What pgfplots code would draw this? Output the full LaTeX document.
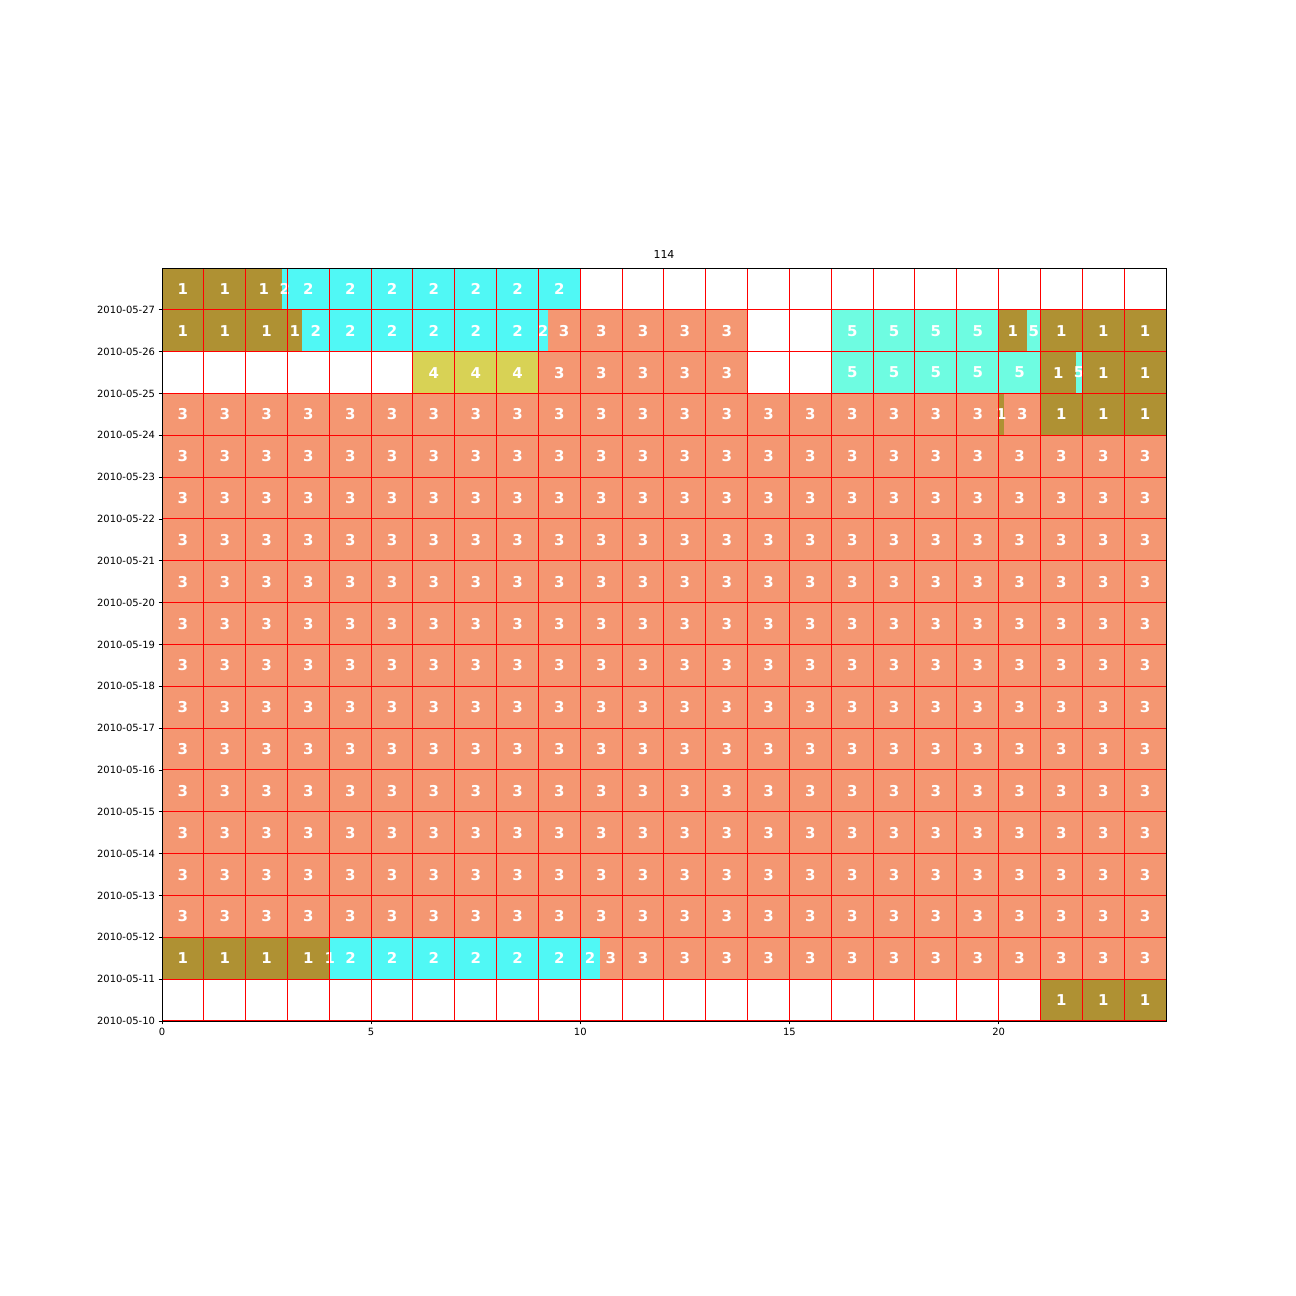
\documentclass[border=0pt]{standalone}
\usepackage{fontspec}
\setmainfont{DejaVu Sans}
\usepackage{pgfplots}
\pgfplotsset{compat=1.18}

\definecolor{c1}{RGB}{175,145,51}
\definecolor{c2}{RGB}{80,248,245}
\definecolor{c3}{RGB}{244,151,114}
\definecolor{c4}{RGB}{216,210,85}
\definecolor{c5}{RGB}{110,252,225}

\pgfplotsset{
  cell/.style={draw=none, fill=#1, forget plot},
  lbl/.style={only marks, mark=none, forget plot, on layer=axis foreground,
    nodes near coords={#1},
    every node near coord/.append style={anchor=center, text=white,
      font=\bfseries\fontsize{15}{15}\selectfont}},
}

\begin{document}
\begin{tikzpicture}
\path (0,0) rectangle (1296bp,1296bp);
\begin{axis}[
  at={(162bp,275bp)}, anchor=south west,
  width=1004bp, height=753bp, scale only axis,
  xmin=0, xmax=24, ymin=0, ymax=18,
  xtick={0,5,10,15,20}, minor xtick={1,...,23},
  ytick={0,...,17},
  yticklabels={2010-05-10,2010-05-11,2010-05-12,2010-05-13,2010-05-14,2010-05-15,
    2010-05-16,2010-05-17,2010-05-18,2010-05-19,2010-05-20,2010-05-21,2010-05-22,
    2010-05-23,2010-05-24,2010-05-25,2010-05-26,2010-05-27},
  tick align=outside, tick pos=left,
  major tick length=3.5bp, minor tick length=0pt,
  xmajorgrids, xminorgrids, ymajorgrids,
  grid style={draw=red, line width=1bp},
  minor grid style={draw=red, line width=1bp},
  set layers, axis on top,
  axis line style={black, line width=0.8bp},
  tick style={black, line width=0.8bp},
  tick label style={font=\fontsize{10}{12}\selectfont},
  /pgf/number format/assume math mode=true,
  title=114, title style={font=\fontsize{11}{13}\selectfont},
]
% coloured segments (hour from, hour to, day row)
\addplot [cell=c3] coordinates {(10.46,1) (24,1) (24,2) (10.46,2)};
\addplot [cell=c3] coordinates {(0,2) (24,2) (24,14) (0,14)};
\addplot [cell=c3] coordinates {(0,14) (20,14) (20,15) (0,15)};
\addplot [cell=c3] coordinates {(20.13,14) (21,14) (21,15) (20.13,15)};
\addplot [cell=c3] coordinates {(9,15) (14,15) (14,16) (9,16)};
\addplot [cell=c3] coordinates {(9.22,16) (14,16) (14,17) (9.22,17)};

\addplot [cell=c1] coordinates {(21,0) (24,0) (24,1) (21,1)};
\addplot [cell=c1] coordinates {(0,1) (4.02,1) (4.02,2) (0,2)};
\addplot [cell=c1] coordinates {(20,14) (20.13,14) (20.13,15) (20,15)};
\addplot [cell=c1] coordinates {(21,14) (24,14) (24,15) (21,15)};
\addplot [cell=c1] coordinates {(21,15) (21.85,15) (21.85,16) (21,16)};
\addplot [cell=c1] coordinates {(22,15) (24,15) (24,16) (22,16)};
\addplot [cell=c1] coordinates {(0,16) (3.35,16) (3.35,17) (0,17)};
\addplot [cell=c1] coordinates {(20,16) (20.68,16) (20.68,17) (20,17)};
\addplot [cell=c1] coordinates {(21,16) (24,16) (24,17) (21,17)};
\addplot [cell=c1] coordinates {(0,17) (2.87,17) (2.87,18) (0,18)};

\addplot [cell=c2] coordinates {(4.02,1) (10.46,1) (10.46,2) (4.02,2)};
\addplot [cell=c2] coordinates {(3.35,16) (9.22,16) (9.22,17) (3.35,17)};
\addplot [cell=c2] coordinates {(2.87,17) (10,17) (10,18) (2.87,18)};

\addplot [cell=c4] coordinates {(6,15) (9,15) (9,16) (6,16)};

\addplot [cell=c5] coordinates {(16,15) (21,15) (21,16) (16,16)};
\addplot [cell=c5] coordinates {(21.85,15) (22,15) (22,16) (21.85,16)};
\addplot [cell=c5] coordinates {(16,16) (20,16) (20,17) (16,17)};
\addplot [cell=c5] coordinates {(20.68,16) (21,16) (21,17) (20.68,17)};

% labels
\addplot [lbl=1] coordinates {
(21.5,0.5) (22.5,0.5) (23.5,0.5)
(0.5,1.5) (1.5,1.5) (2.5,1.5) (3.5,1.5) (4.01,1.5)
(20.065,14.5) (21.5,14.5) (22.5,14.5) (23.5,14.5)
(21.425,15.5) (22.5,15.5) (23.5,15.5)
(0.5,16.5) (1.5,16.5) (2.5,16.5) (3.175,16.5) (20.34,16.5) (21.5,16.5) (22.5,16.5) (23.5,16.5)
(0.5,17.5) (1.5,17.5) (2.435,17.5)
};
\addplot [lbl=2] coordinates {
(4.51,1.5) (5.5,1.5) (6.5,1.5) (7.5,1.5) (8.5,1.5) (9.5,1.5) (10.23,1.5)
(3.675,16.5) (4.5,16.5) (5.5,16.5) (6.5,16.5) (7.5,16.5) (8.5,16.5) (9.11,16.5)
(2.935,17.5) (3.5,17.5) (4.5,17.5) (5.5,17.5) (6.5,17.5) (7.5,17.5) (8.5,17.5) (9.5,17.5)
};
\addplot [lbl=3] coordinates {
(10.73,1.5) (11.5,1.5) (12.5,1.5) (13.5,1.5) (14.5,1.5) (15.5,1.5) (16.5,1.5) (17.5,1.5) (18.5,1.5) (19.5,1.5) (20.5,1.5) (21.5,1.5) (22.5,1.5) (23.5,1.5)
(0.5,2.5) (1.5,2.5) (2.5,2.5) (3.5,2.5) (4.5,2.5) (5.5,2.5) (6.5,2.5) (7.5,2.5) (8.5,2.5) (9.5,2.5) (10.5,2.5) (11.5,2.5) (12.5,2.5) (13.5,2.5) (14.5,2.5) (15.5,2.5) (16.5,2.5) (17.5,2.5) (18.5,2.5) (19.5,2.5) (20.5,2.5) (21.5,2.5) (22.5,2.5) (23.5,2.5)
(0.5,3.5) (1.5,3.5) (2.5,3.5) (3.5,3.5) (4.5,3.5) (5.5,3.5) (6.5,3.5) (7.5,3.5) (8.5,3.5) (9.5,3.5) (10.5,3.5) (11.5,3.5) (12.5,3.5) (13.5,3.5) (14.5,3.5) (15.5,3.5) (16.5,3.5) (17.5,3.5) (18.5,3.5) (19.5,3.5) (20.5,3.5) (21.5,3.5) (22.5,3.5) (23.5,3.5)
(0.5,4.5) (1.5,4.5) (2.5,4.5) (3.5,4.5) (4.5,4.5) (5.5,4.5) (6.5,4.5) (7.5,4.5) (8.5,4.5) (9.5,4.5) (10.5,4.5) (11.5,4.5) (12.5,4.5) (13.5,4.5) (14.5,4.5) (15.5,4.5) (16.5,4.5) (17.5,4.5) (18.5,4.5) (19.5,4.5) (20.5,4.5) (21.5,4.5) (22.5,4.5) (23.5,4.5)
(0.5,5.5) (1.5,5.5) (2.5,5.5) (3.5,5.5) (4.5,5.5) (5.5,5.5) (6.5,5.5) (7.5,5.5) (8.5,5.5) (9.5,5.5) (10.5,5.5) (11.5,5.5) (12.5,5.5) (13.5,5.5) (14.5,5.5) (15.5,5.5) (16.5,5.5) (17.5,5.5) (18.5,5.5) (19.5,5.5) (20.5,5.5) (21.5,5.5) (22.5,5.5) (23.5,5.5)
(0.5,6.5) (1.5,6.5) (2.5,6.5) (3.5,6.5) (4.5,6.5) (5.5,6.5) (6.5,6.5) (7.5,6.5) (8.5,6.5) (9.5,6.5) (10.5,6.5) (11.5,6.5) (12.5,6.5) (13.5,6.5) (14.5,6.5) (15.5,6.5) (16.5,6.5) (17.5,6.5) (18.5,6.5) (19.5,6.5) (20.5,6.5) (21.5,6.5) (22.5,6.5) (23.5,6.5)
(0.5,7.5) (1.5,7.5) (2.5,7.5) (3.5,7.5) (4.5,7.5) (5.5,7.5) (6.5,7.5) (7.5,7.5) (8.5,7.5) (9.5,7.5) (10.5,7.5) (11.5,7.5) (12.5,7.5) (13.5,7.5) (14.5,7.5) (15.5,7.5) (16.5,7.5) (17.5,7.5) (18.5,7.5) (19.5,7.5) (20.5,7.5) (21.5,7.5) (22.5,7.5) (23.5,7.5)
(0.5,8.5) (1.5,8.5) (2.5,8.5) (3.5,8.5) (4.5,8.5) (5.5,8.5) (6.5,8.5) (7.5,8.5) (8.5,8.5) (9.5,8.5) (10.5,8.5) (11.5,8.5) (12.5,8.5) (13.5,8.5) (14.5,8.5) (15.5,8.5) (16.5,8.5) (17.5,8.5) (18.5,8.5) (19.5,8.5) (20.5,8.5) (21.5,8.5) (22.5,8.5) (23.5,8.5)
(0.5,9.5) (1.5,9.5) (2.5,9.5) (3.5,9.5) (4.5,9.5) (5.5,9.5) (6.5,9.5) (7.5,9.5) (8.5,9.5) (9.5,9.5) (10.5,9.5) (11.5,9.5) (12.5,9.5) (13.5,9.5) (14.5,9.5) (15.5,9.5) (16.5,9.5) (17.5,9.5) (18.5,9.5) (19.5,9.5) (20.5,9.5) (21.5,9.5) (22.5,9.5) (23.5,9.5)
(0.5,10.5) (1.5,10.5) (2.5,10.5) (3.5,10.5) (4.5,10.5) (5.5,10.5) (6.5,10.5) (7.5,10.5) (8.5,10.5) (9.5,10.5) (10.5,10.5) (11.5,10.5) (12.5,10.5) (13.5,10.5) (14.5,10.5) (15.5,10.5) (16.5,10.5) (17.5,10.5) (18.5,10.5) (19.5,10.5) (20.5,10.5) (21.5,10.5) (22.5,10.5) (23.5,10.5)
(0.5,11.5) (1.5,11.5) (2.5,11.5) (3.5,11.5) (4.5,11.5) (5.5,11.5) (6.5,11.5) (7.5,11.5) (8.5,11.5) (9.5,11.5) (10.5,11.5) (11.5,11.5) (12.5,11.5) (13.5,11.5) (14.5,11.5) (15.5,11.5) (16.5,11.5) (17.5,11.5) (18.5,11.5) (19.5,11.5) (20.5,11.5) (21.5,11.5) (22.5,11.5) (23.5,11.5)
(0.5,12.5) (1.5,12.5) (2.5,12.5) (3.5,12.5) (4.5,12.5) (5.5,12.5) (6.5,12.5) (7.5,12.5) (8.5,12.5) (9.5,12.5) (10.5,12.5) (11.5,12.5) (12.5,12.5) (13.5,12.5) (14.5,12.5) (15.5,12.5) (16.5,12.5) (17.5,12.5) (18.5,12.5) (19.5,12.5) (20.5,12.5) (21.5,12.5) (22.5,12.5) (23.5,12.5)
(0.5,13.5) (1.5,13.5) (2.5,13.5) (3.5,13.5) (4.5,13.5) (5.5,13.5) (6.5,13.5) (7.5,13.5) (8.5,13.5) (9.5,13.5) (10.5,13.5) (11.5,13.5) (12.5,13.5) (13.5,13.5) (14.5,13.5) (15.5,13.5) (16.5,13.5) (17.5,13.5) (18.5,13.5) (19.5,13.5) (20.5,13.5) (21.5,13.5) (22.5,13.5) (23.5,13.5)
(0.5,14.5) (1.5,14.5) (2.5,14.5) (3.5,14.5) (4.5,14.5) (5.5,14.5) (6.5,14.5) (7.5,14.5) (8.5,14.5) (9.5,14.5) (10.5,14.5) (11.5,14.5) (12.5,14.5) (13.5,14.5) (14.5,14.5) (15.5,14.5) (16.5,14.5) (17.5,14.5) (18.5,14.5) (19.5,14.5) (20.565,14.5)
(9.5,15.5) (10.5,15.5) (11.5,15.5) (12.5,15.5) (13.5,15.5)
(9.61,16.5) (10.5,16.5) (11.5,16.5) (12.5,16.5) (13.5,16.5)
};
\addplot [lbl=4] coordinates {(6.5,15.5) (7.5,15.5) (8.5,15.5)};
\addplot [lbl=5] coordinates {
(16.5,15.5) (17.5,15.5) (18.5,15.5) (19.5,15.5) (20.5,15.5) (21.925,15.5)
(16.5,16.5) (17.5,16.5) (18.5,16.5) (19.5,16.5) (20.84,16.5)
};
\end{axis}
\end{tikzpicture}
\end{document}
